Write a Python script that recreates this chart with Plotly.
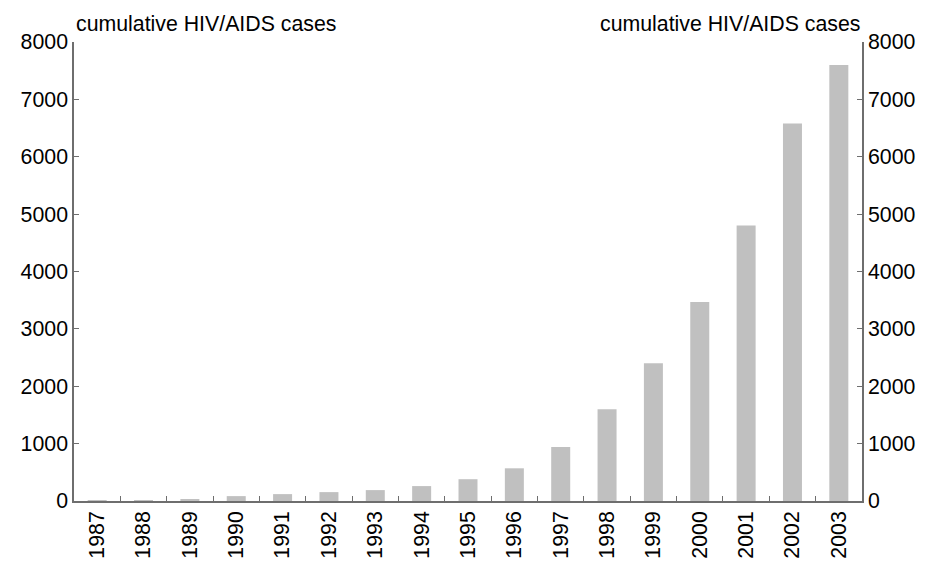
import plotly.graph_objects as go

# Datos
anios = [str(a) for a in range(1987, 2004)]
casos = [5, 10, 35, 85, 120, 155, 190, 260, 380, 570, 940, 1600, 2400, 3470, 4800, 6580, 7600]

ticks_y = [0, 1000, 2000, 3000, 4000, 5000, 6000, 7000, 8000]
titulo_eje = "cumulative HIV/AIDS cases"

fuente = dict(family="Liberation Sans, Arial, sans-serif", size=21.3, color="#000000")
color_eje = "#6e6e6e"

fig = go.Figure()

fig.add_trace(go.Bar(
    x=anios,
    y=casos,
    marker=dict(color="#c0c0c0", line=dict(width=0)),
    width=0.41,
    showlegend=False,
    hoverinfo="x+y",
))

# Traza invisible para que se dibuje el eje derecho
fig.add_trace(go.Scatter(
    x=anios,
    y=casos,
    yaxis="y2",
    mode="lines",
    line=dict(width=0),
    opacity=0,
    showlegend=False,
    hoverinfo="skip",
))

eje_y = dict(
    range=[0, 8000],
    tickvals=ticks_y,
    ticks="inside",
    ticklen=5,
    tickcolor=color_eje,
    showline=True,
    linecolor=color_eje,
    linewidth=1.5,
    showgrid=False,
    zeroline=False,
    tickfont=fuente,
    automargin=False,
)

# la pagina deja 8 px de margen arriba y a la izquierda
fig.update_layout(
    width=919,
    height=555,
    margin=dict(l=66, r=65, t=34, b=62),
    plot_bgcolor="white",
    paper_bgcolor="white",
    font=fuente,
    bargap=0.59,
    xaxis=dict(
        type="category",
        tickangle=-90,
        ticks="inside",
        tickson="boundaries",
        ticklen=5,
        tickcolor=color_eje,
        showline=True,
        linecolor=color_eje,
        linewidth=1.5,
        showgrid=False,
        tickfont=fuente,
        automargin=False,
    ),
    yaxis=eje_y,
    yaxis2=dict(eje_y, overlaying="y", side="right"),
    annotations=[
        dict(text=titulo_eje, xref="paper", yref="paper", x=0, y=1,
             xanchor="left", yanchor="bottom", yshift=4, showarrow=False, font=fuente),
        dict(text=titulo_eje, xref="paper", yref="paper", x=1, y=1,
             xanchor="right", yanchor="bottom", yshift=4, showarrow=False, font=fuente),
    ],
)

fig.write_html("out.html")
